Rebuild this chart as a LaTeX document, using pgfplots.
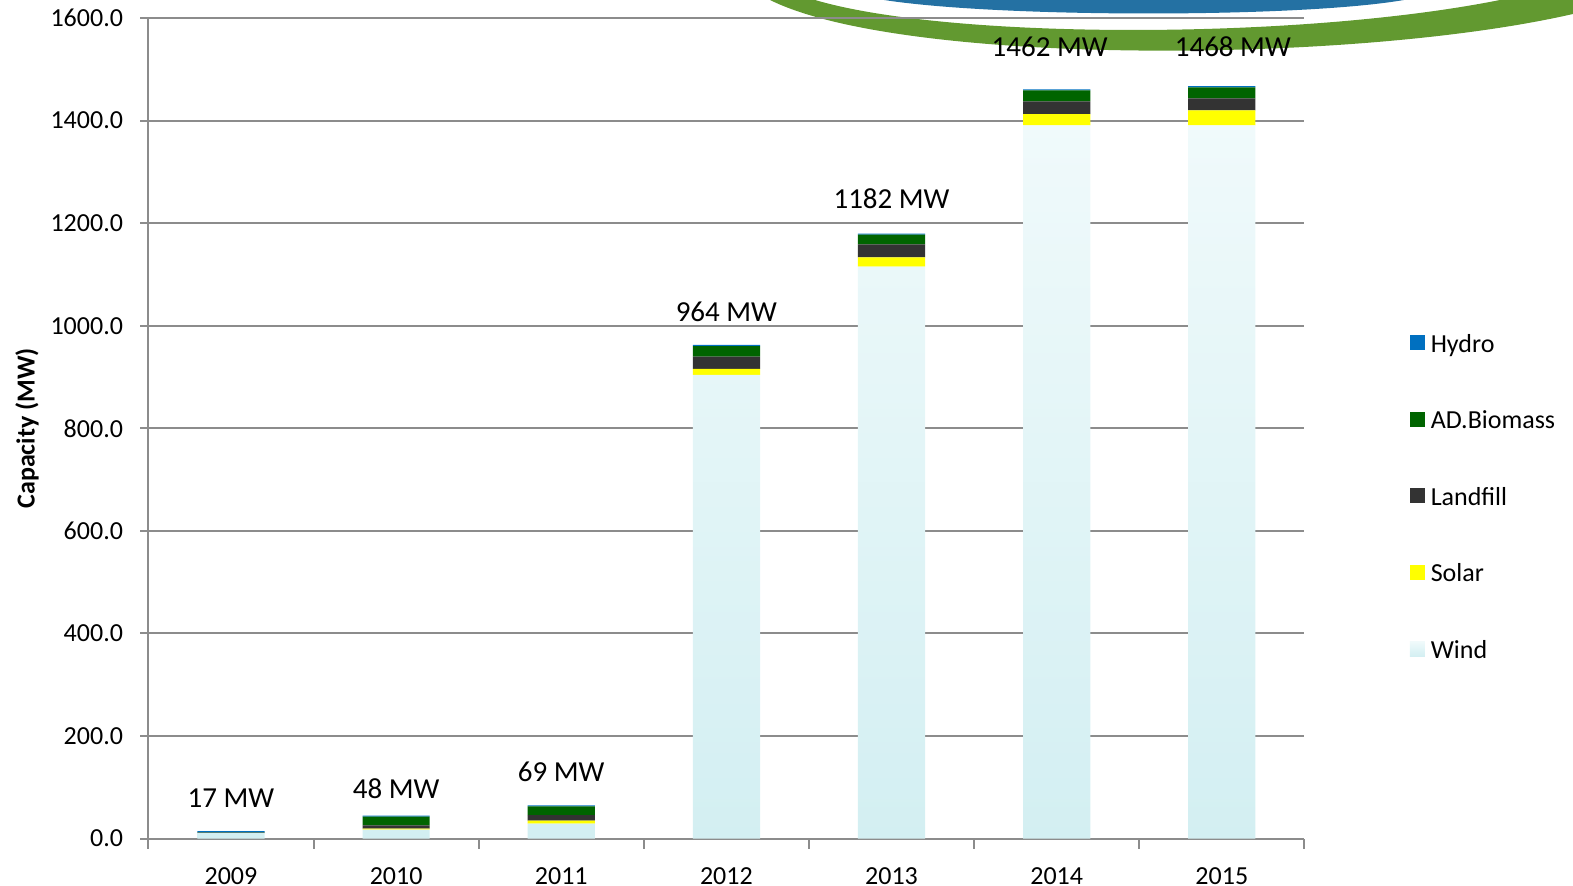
\documentclass[border=0pt]{standalone}
\usepackage{pgfplots}
\pgfplotsset{compat=1.18}
\usepackage{pgfplotstable}
\usepackage{fontspec}
\setmainfont{Carlito}
\definecolor{hydro}{RGB}{0,112,192}
\definecolor{biomass}{RGB}{0,100,0}
\definecolor{landfill}{RGB}{51,51,51}
\definecolor{solar}{RGB}{255,255,0}
\definecolor{windtop}{RGB}{240,250,251}
\definecolor{windbot}{RGB}{211,239,242}
\definecolor{gridgray}{RGB}{140,140,140}
\definecolor{arcblue}{RGB}{36,113,163}
\definecolor{arcgreen}{RGB}{98,153,48}

\pgfplotstableread{
x wind solar landfill biomass hydro label dy dx
0 10.5 0.0 1.0 0.5 2.5 17 12 0
1 17.6 2.0 6.0 17.0 2.0 48 9 0
2 29.3 5.9 10.4 17.0 2.0 69 12 0
3 904.0 11.7 24.0 20.3 2.6 964 12 0
4 1115.0 18.2 25.4 19.0 2.0 1182 13 0
5 1390.6 22.1 24.8 21.5 2.0 1462 16.5 -3.5
6 1390.6 29.3 23.5 21.5 2.0 1468 15 5.5
}\data

\begin{document}
\begin{tikzpicture}
\useasboundingbox (0,0) rectangle (786.5pt,443pt);
\begin{scope}
\clip (0,0) rectangle (786.5pt,443pt);
\fill[arcgreen] (385pt,443pt) .. controls (450pt,410.5pt) and (675pt,410.5pt) .. (786.5pt,436pt)
  -- (786.5pt,445pt) -- (750pt,445pt) -- (750pt,443pt)
  .. controls (650pt,423pt) and (475pt,423pt) .. (407.5pt,443pt) -- cycle;
\fill[arcblue] (442pt,443pt) .. controls (500pt,434pt) and (650pt,434pt) .. (702pt,443pt) -- cycle;
\end{scope}
\begin{axis}[
  at={(74.2pt,23.7pt)}, anchor=south west,
  scale only axis, width=578pt, height=410.3pt,
  ybar stacked, bar width=33.6pt,
  xmin=-0.5, xmax=6.5, ymin=0, ymax=1600,
  xtick={0,...,6}, xticklabels={2009,2010,2011,2012,2013,2014,2015},
  minor xtick={-0.5,0.5,...,6.5},
  ytick={0,200,...,1600},
  ymajorgrids, grid style={gridgray, line width=1pt},
  axis lines*=left,
  axis line style={gridgray, line width=1pt, -},
  tick align=outside,
  major tick length=4pt, minor tick length=5pt,
  major x tick style={draw=none},
  minor x tick style={gridgray, line width=1pt},
  major y tick style={gridgray, line width=1pt},
  ticklabel style={font=\fontsize{13}{15}\selectfont},
  /pgf/number format/.cd, fixed, fixed zerofill, precision=1, 1000 sep={}, assume math mode=true,
  /pgfplots/.cd,
  yticklabel style={anchor=east, inner sep=0pt, xshift=-8.5pt},
  xticklabel style={anchor=base, inner sep=0pt, yshift=-18.8pt},
  ylabel={\textbf{Capacity (MW)}},
  ylabel style={at={(axis description cs:-0.105,0.5)}, anchor=center, rotate=0, font=\fontsize{13}{15}\selectfont},
  legend style={at={(1.0908,0.6137)}, anchor=north west, draw=none, fill=none, inner sep=0pt,
    row sep=27.25pt, font=\fontsize{13}{15}\selectfont,
    nodes={inner sep=0pt, text height=8.5pt, text depth=2.5pt},
    /tikz/every odd column/.append style={column sep=3pt}},
  legend cell align=left,
  reverse legend,
  legend image code/.code={\path[#1, draw=none] (0pt,-2pt) rectangle (7.5pt,5.5pt);},
]
\addplot[draw=none, top color=windtop, bottom color=windbot] table[x=x, y=wind] {\data};
\addlegendentry{Wind}
\addplot[draw=none, fill=solar] table[x=x, y=solar] {\data};
\addlegendentry{Solar}
\addplot[draw=none, fill=landfill] table[x=x, y=landfill] {\data};
\addlegendentry{Landfill}
\addplot[draw=none, fill=biomass] table[x=x, y=biomass] {\data};
\addlegendentry{AD.Biomass}
\addplot[draw=none, fill=hydro,
  point meta=explicit symbolic,
  visualization depends on={\thisrow{dy} \as \dy},
  visualization depends on={\thisrow{dx} \as \dx},
  nodes near coords={\pgfplotspointmeta{} MW},
  every node near coord/.append style={anchor=base, inner sep=0pt, yshift=\dy pt, xshift=\dx pt, font=\fontsize{14.5}{16}\selectfont, text=black}
  ] table[x=x, y=hydro, meta=label] {\data};
\addlegendentry{Hydro}
\end{axis}
\end{tikzpicture}
\end{document}
